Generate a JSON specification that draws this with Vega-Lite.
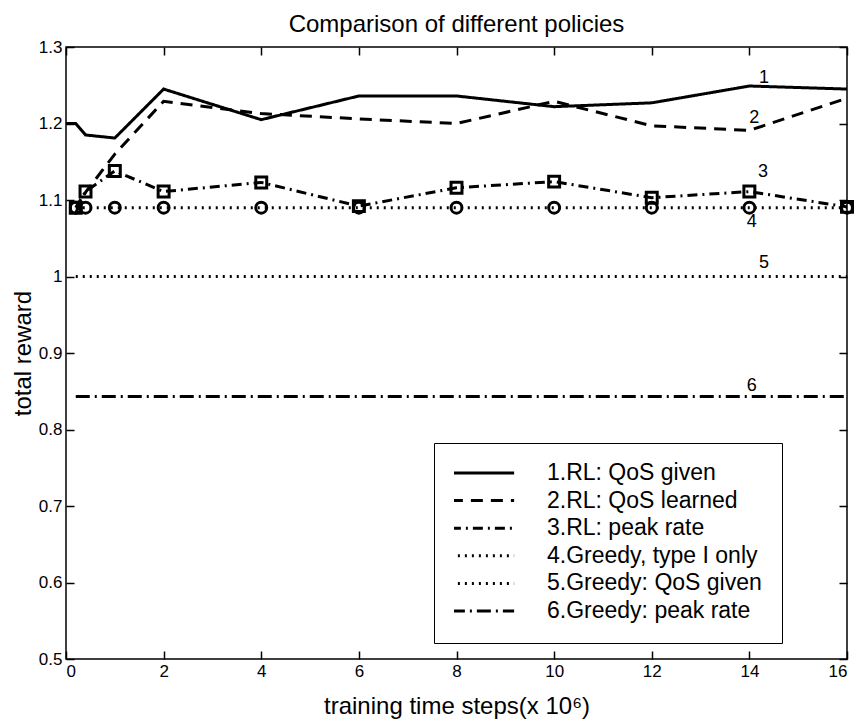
{
  "$schema": "https://vega.github.io/schema/vega-lite/v6.json",
  "width": 781,
  "height": 612,
  "autosize": {"type": "none"},
  "padding": {"left": 66, "top": 47, "right": 12, "bottom": 60},
  "background": "white",
  "config": {
    "font": "Liberation Sans",
    "view": {"stroke": "black", "strokeWidth": 1.5},
    "axis": {
      "domain": false,
      "tickColor": "black", "tickWidth": 1.5, "ticks": true, "tickSize": 8, "offset": -8,
      "labelColor": "black", "labelFontSize": 17, "labelFont": "Liberation Sans", "labelPadding": 4,
      "titleColor": "black", "titleFontSize": 24, "titleFontWeight": "normal", "titleFont": "Liberation Sans",
      "grid": false
    }
  },
  "title": {
    "text": "Comparison of different policies",
    "fontSize": 24, "fontWeight": "normal", "font": "Liberation Sans", "color": "black",
    "frame": "group", "anchor": "middle", "offset": 1
  },
  "datasets": {
    "series": [
      {"series": "1.RL: QoS given", "x": 0, "y": 1.2},
      {"series": "1.RL: QoS given", "x": 0.2, "y": 1.2},
      {"series": "1.RL: QoS given", "x": 0.4, "y": 1.185},
      {"series": "1.RL: QoS given", "x": 1, "y": 1.181},
      {"series": "1.RL: QoS given", "x": 2, "y": 1.245},
      {"series": "1.RL: QoS given", "x": 4, "y": 1.205},
      {"series": "1.RL: QoS given", "x": 6, "y": 1.236},
      {"series": "1.RL: QoS given", "x": 8, "y": 1.236},
      {"series": "1.RL: QoS given", "x": 10, "y": 1.222},
      {"series": "1.RL: QoS given", "x": 12, "y": 1.227},
      {"series": "1.RL: QoS given", "x": 14, "y": 1.249},
      {"series": "1.RL: QoS given", "x": 16, "y": 1.245},
      {"series": "2.RL: QoS learned", "x": 0.2, "y": 1.083},
      {"series": "2.RL: QoS learned", "x": 0.4, "y": 1.11},
      {"series": "2.RL: QoS learned", "x": 1, "y": 1.16},
      {"series": "2.RL: QoS learned", "x": 2, "y": 1.229},
      {"series": "2.RL: QoS learned", "x": 4, "y": 1.213},
      {"series": "2.RL: QoS learned", "x": 6, "y": 1.206},
      {"series": "2.RL: QoS learned", "x": 8, "y": 1.2},
      {"series": "2.RL: QoS learned", "x": 10, "y": 1.229},
      {"series": "2.RL: QoS learned", "x": 12, "y": 1.197},
      {"series": "2.RL: QoS learned", "x": 14, "y": 1.191},
      {"series": "2.RL: QoS learned", "x": 16, "y": 1.233},
      {"series": "3.RL: peak rate", "x": 0.2, "y": 1.09},
      {"series": "3.RL: peak rate", "x": 0.4, "y": 1.111},
      {"series": "3.RL: peak rate", "x": 1, "y": 1.138},
      {"series": "3.RL: peak rate", "x": 2, "y": 1.111},
      {"series": "3.RL: peak rate", "x": 4, "y": 1.123},
      {"series": "3.RL: peak rate", "x": 6, "y": 1.092},
      {"series": "3.RL: peak rate", "x": 8, "y": 1.116},
      {"series": "3.RL: peak rate", "x": 10, "y": 1.124},
      {"series": "3.RL: peak rate", "x": 12, "y": 1.103},
      {"series": "3.RL: peak rate", "x": 14, "y": 1.111},
      {"series": "3.RL: peak rate", "x": 16, "y": 1.091},
      {"series": "4.Greedy, type I only", "x": 0.2, "y": 1.09},
      {"series": "4.Greedy, type I only", "x": 0.4, "y": 1.09},
      {"series": "4.Greedy, type I only", "x": 1, "y": 1.09},
      {"series": "4.Greedy, type I only", "x": 2, "y": 1.09},
      {"series": "4.Greedy, type I only", "x": 4, "y": 1.09},
      {"series": "4.Greedy, type I only", "x": 6, "y": 1.09},
      {"series": "4.Greedy, type I only", "x": 8, "y": 1.09},
      {"series": "4.Greedy, type I only", "x": 10, "y": 1.09},
      {"series": "4.Greedy, type I only", "x": 12, "y": 1.09},
      {"series": "4.Greedy, type I only", "x": 14, "y": 1.09},
      {"series": "4.Greedy, type I only", "x": 16, "y": 1.09},
      {"series": "5.Greedy: QoS given", "x": 0.2, "y": 1.0},
      {"series": "5.Greedy: QoS given", "x": 16, "y": 1.0},
      {"series": "6.Greedy: peak rate", "x": 0.2, "y": 0.843},
      {"series": "6.Greedy: peak rate", "x": 16, "y": 0.843}
    ],
    "labels": [
      {"label": "1", "x": 14.3, "y": 1.259},
      {"label": "2", "x": 14.1, "y": 1.207},
      {"label": "3", "x": 14.28, "y": 1.137},
      {"label": "4", "x": 14.05, "y": 1.071},
      {"label": "5", "x": 14.3, "y": 1.017},
      {"label": "6", "x": 14.05, "y": 0.857}
    ]
  },
  "layer": [
    {
      "data": {"name": "series"},
      "mark": {"type": "line", "strokeWidth": 3, "color": "black"},
      "encoding": {
        "x": {"field": "x", "type": "quantitative", "scale": {"domain": [0, 16], "nice": false},
              "axis": {"title": "training time steps(x 10⁶)", "values": [0, 2, 4, 6, 8, 10, 12, 14, 16], "titlePadding": 15}},
        "y": {"field": "y", "type": "quantitative", "scale": {"domain": [0.5, 1.3], "nice": false, "zero": false},
              "axis": {"title": "total reward", "values": [0.5, 0.6, 0.7, 0.8, 0.9, 1.0, 1.1, 1.2, 1.3], "format": "~g", "titlePadding": 3}},
        "strokeDash": {
          "field": "series", "type": "nominal",
          "scale": {
            "domain": ["1.RL: QoS given", "2.RL: QoS learned", "3.RL: peak rate", "4.Greedy, type I only", "5.Greedy: QoS given", "6.Greedy: peak rate"],
            "range": [[1, 0], [12, 8], [10, 5, 2, 5], [2, 5], [2, 5], [14, 5, 2, 5]]
          },
          "legend": {
            "title": null, "orient": "none", "legendX": 368, "legendY": 396,
            "strokeColor": "black", "fillColor": "white", "padding": 20,
            "symbolType": "stroke", "symbolSize": 4000, "symbolStrokeWidth": 3, "symbolOffset": -5,
            "symbolStrokeColor": "black", "symbolFillColor": "transparent",
            "clipHeight": 20, "rowPadding": 4.6, "labelFontSize": 23, "labelOffset": 31,
            "labelLimit": 400, "labelColor": "black", "labelFont": "Liberation Sans"
          }
        }
      }
    },
    {
      "data": {"name": "series"},
      "transform": [{"filter": "datum.series === '3.RL: peak rate'"}],
      "mark": {"type": "point", "shape": "square", "filled": false, "size": 120, "strokeWidth": 3, "color": "black", "opacity": 1},
      "encoding": {
        "x": {"field": "x", "type": "quantitative", "axis": null},
        "y": {"field": "y", "type": "quantitative", "axis": null}
      }
    },
    {
      "data": {"name": "series"},
      "transform": [{"filter": "datum.series === '4.Greedy, type I only'"}],
      "mark": {"type": "point", "shape": "circle", "filled": false, "size": 120, "strokeWidth": 3, "color": "black", "opacity": 1},
      "encoding": {
        "x": {"field": "x", "type": "quantitative", "axis": null},
        "y": {"field": "y", "type": "quantitative", "axis": null}
      }
    },
    {
      "data": {"name": "labels"},
      "mark": {"type": "text", "fontSize": 18, "font": "Liberation Sans", "color": "black"},
      "encoding": {
        "x": {"field": "x", "type": "quantitative", "axis": null},
        "y": {"field": "y", "type": "quantitative", "axis": null},
        "text": {"field": "label", "type": "nominal"}
      }
    },
    {
      "data": {"name": "labels"},
      "mark": {"type": "point", "opacity": 0},
      "encoding": {
        "x": {"field": "x", "type": "quantitative",
              "axis": {"orient": "top", "title": null, "labels": false, "values": [0, 2, 4, 6, 8, 10, 12, 14, 16]}},
        "y": {"field": "y", "type": "quantitative",
              "axis": {"orient": "right", "title": null, "labels": false, "values": [0.5, 0.6, 0.7, 0.8, 0.9, 1.0, 1.1, 1.2, 1.3]}}
      }
    }
  ],
  "resolve": {"axis": {"x": "independent", "y": "independent"}}
}
